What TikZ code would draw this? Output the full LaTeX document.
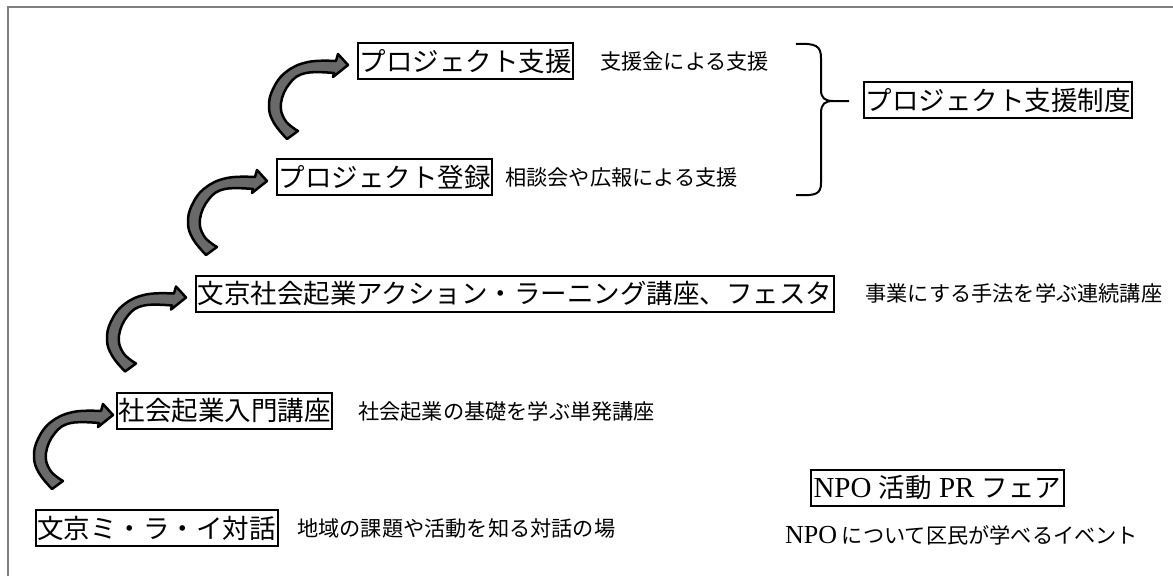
\documentclass[tikz,border=0pt]{standalone}
\usepackage{fontspec}
\setmainfont{Liberation Serif}
\newfontfamily\jp{Noto Sans CJK JP}
\tikzset{
  box/.style={draw,line width=2pt,inner xsep=1.5pt,inner ysep=4pt,minimum height=36pt,anchor=west,font=\jp\fontsize{26.5}{30}\selectfont},
  note/.style={inner sep=0pt,anchor=west,font=\jp\fontsize{21.2}{25}\selectfont},
  arrowfill/.style={draw=black,line width=2.5pt,line join=round,fill={rgb,255:red,105;green,105;blue,105}},
  curvarrow/.pic={
    \filldraw[arrowfill] plot[smooth,tension=0.7] coordinates {(-64,78) (-77,62) (-82,46) (-78,28) (-65,11) (-43,1) (-15,0)}
      -- (-13,-7) -- (-3,4) -- (-18,16) -- (-17,12)
      -- plot[smooth,tension=0.7] coordinates {(-17,12) (-45,12) (-61,22) (-70,42) (-66,59) (-53,70)} -- cycle;
  }
}
\begin{document}
\begin{tikzpicture}[x=1pt,y=-1pt]
\useasboundingbox (0,0) rectangle (1173,576);
\draw[gray,line width=2pt] (7.5,576) -- (7.5,7) -- (1173,7);

\node[box] (b1) at (35,528) {文京ミ・ラ・イ対話};
\node[box] (b2) at (116,411) {社会起業入門講座};
\node[box] (b3) at (195,293.5) {文京社会起業アクション・ラーニング講座、フェスタ};
\node[box] (b4) at (276,177) {プロジェクト登録};
\node[box] (b5) at (357,61) {プロジェクト支援};
\node[box] (b6) at (863,100) {プロジェクト支援制度};
\node[box,inner xsep=2.5pt,font=\rmfamily\fontsize{29}{32}\selectfont] (b7) at (810,487.5) {NPO {\jp\fontsize{26.5}{30}\selectfont 活動} PR {\jp\fontsize{26.5}{30}\selectfont フェア}};

\node[note] (n1) at (297,528) {地域の課題や活動を知る対話の場};
\node[note] (n2) at (358,411) {社会起業の基礎を学ぶ単発講座};
\node[note] (n3) at (865,293.5) {事業にする手法を学ぶ連続講座};
\node[note] (n4) at (505,177) {相談会や広報による支援};
\node[note] (n5) at (600,61) {支援金による支援};
\node[note] (n7) at (785,535) {{\rmfamily\fontsize{26}{28}\selectfont NPO} について区民が学べるイベント};

\pic at (b2.west) {curvarrow};
\pic at ([xshift=-6pt]b3.west) {curvarrow};
\pic at ([xshift=-6pt]b4.west) {curvarrow};
\pic at ([xshift=-6pt]b5.west) {curvarrow};

\coordinate (bt) at (849,101);
\draw[line width=2pt] (796,44) .. controls (816,43) and (821,46) .. (821,58) -- (821,90) .. controls (821,98) and (825,101) .. (833,101) -- (bt);
\draw[line width=2pt] (833,101) .. controls (825,101) and (821,104) .. (821,113) -- (821,183) .. controls (821,194) and (816,196) .. (796,195);
\end{tikzpicture}
\end{document}
